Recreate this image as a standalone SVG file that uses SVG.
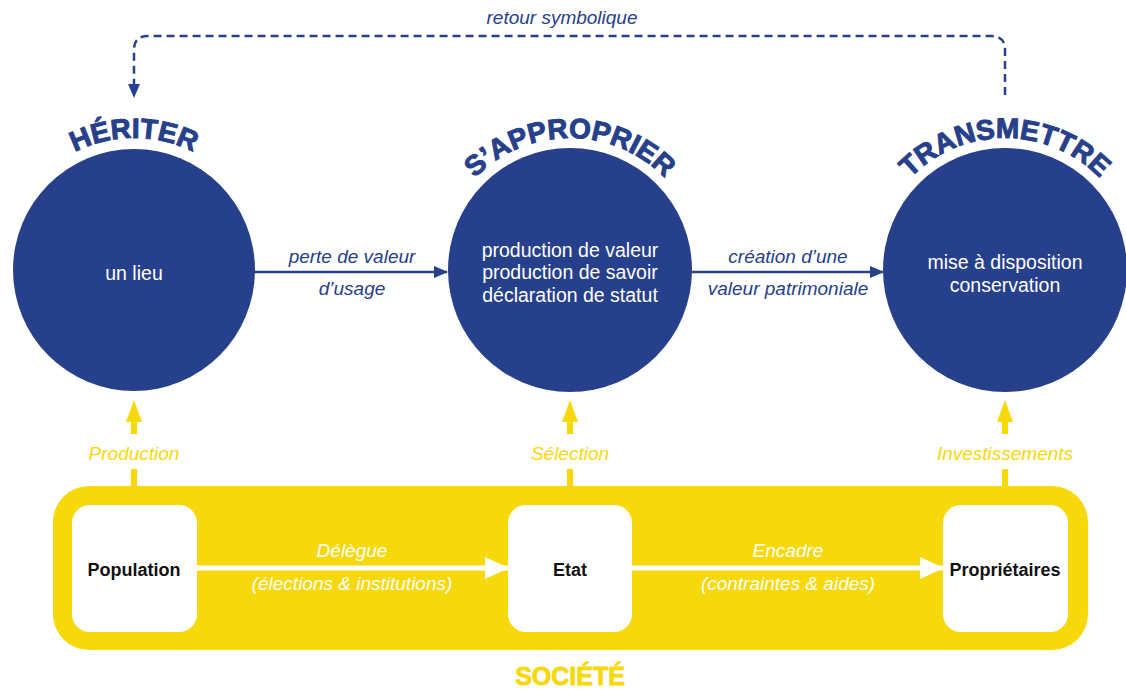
<svg xmlns="http://www.w3.org/2000/svg" width="1126" height="689" viewBox="0 0 1126 689">
<defs>
<style>
.circ{fill:#27408B}
.title{font-family:"Liberation Sans",Arial,sans-serif;font-weight:bold;font-size:28px;fill:#27408B;stroke:#27408B;stroke-width:1;letter-spacing:0px}
.ctext{font-family:"Liberation Sans",Arial,sans-serif;font-size:19.5px;fill:#ffffff;text-anchor:middle}
.blab{font-family:"Liberation Sans",Arial,sans-serif;font-style:italic;font-size:19px;fill:#27408B;text-anchor:middle}
.ylab{font-family:"Liberation Sans",Arial,sans-serif;font-style:italic;font-size:19px;fill:#F7D80B;text-anchor:middle}
.wlab{font-family:"Liberation Sans",Arial,sans-serif;font-style:italic;font-size:19px;fill:#ffffff;text-anchor:middle}
.box{fill:#ffffff}
.boxt{font-family:"Liberation Sans",Arial,sans-serif;font-weight:bold;font-size:18px;fill:#111111;text-anchor:middle}
.bline{stroke:#27408B;stroke-width:2.5;fill:none}
.yline{stroke:#F7D80B;stroke-width:6;fill:none}
.wline{stroke:#ffffff;stroke-width:5;fill:none}
</style>
<marker id="ab" markerWidth="14" markerHeight="12" refX="13" refY="6" orient="auto" markerUnits="userSpaceOnUse"><path d="M0,0 L14,6 L0,12 Z" fill="#27408B"/></marker>
<marker id="aw" markerWidth="24" markerHeight="22" refX="23" refY="11" orient="auto" markerUnits="userSpaceOnUse"><path d="M0,0 L24,11 L0,22 Z" fill="#ffffff"/></marker>
<path id="arc1" d="M2,270 A132,132 0 0 1 266,270"/>
<path id="arc2" d="M438,270 A132,132 0 0 1 702,270"/>
<path id="arc3" d="M873,270 A132,132 0 0 1 1137,270"/>
</defs>
<rect width="1126" height="689" fill="#ffffff"/>

<g id="societe">
<rect x="53" y="486" width="1035" height="164" rx="36" fill="#F7D80B"/>
<text x="570" y="685" text-anchor="middle" style="font-family:'Liberation Sans',Arial,sans-serif;font-weight:bold;font-size:25px;fill:#F7D80B;stroke:#F7D80B;stroke-width:0.8">SOCIÉTÉ</text>
</g>

<g id="connectors">
<path class="bline" d="M1005,95 L1005,50 Q1005,36 991,36 L148,36 Q134,36 134,50 L134,86" stroke-dasharray="8,5"/>
<path d="M128,84 L140,84 L134,98 Z" fill="#27408B"/>
<text class="blab" x="562" y="24">retour symbolique</text>

<line class="bline" x1="252" y1="272" x2="447" y2="272" marker-end="url(#ab)"/>
<text class="blab" x="352" y="263">perte de valeur</text>
<text class="blab" x="352" y="295">d’usage</text>

<line class="bline" x1="692" y1="272" x2="883" y2="272" marker-end="url(#ab)"/>
<text class="blab" x="788" y="263">création d’une</text>
<text class="blab" x="788" y="295">valeur patrimoniale</text>

<line class="yline" x1="134" y1="486" x2="134" y2="469"/>
<line class="yline" x1="134" y1="434" x2="134" y2="420"/>
<path d="M126,422 L142,422 L134,400 Z" fill="#F7D80B"/>
<text class="ylab" x="134" y="460">Production</text>

<line class="yline" x1="570" y1="486" x2="570" y2="469"/>
<line class="yline" x1="570" y1="434" x2="570" y2="420"/>
<path d="M562,422 L578,422 L570,400 Z" fill="#F7D80B"/>
<text class="ylab" x="570" y="460">Sélection</text>

<line class="yline" x1="1005" y1="486" x2="1005" y2="469"/>
<line class="yline" x1="1005" y1="434" x2="1005" y2="420"/>
<path d="M997,422 L1013,422 L1005,400 Z" fill="#F7D80B"/>
<text class="ylab" x="1005" y="460">Investissements</text>

<line class="wline" x1="197" y1="568" x2="508" y2="568" marker-end="url(#aw)"/>
<text class="wlab" x="352" y="557">Délègue</text>
<text class="wlab" x="352" y="590">(élections &amp; institutions)</text>

<line class="wline" x1="632" y1="568" x2="943" y2="568" marker-end="url(#aw)"/>
<text class="wlab" x="788" y="557">Encadre</text>
<text class="wlab" x="788" y="590">(contraintes &amp; aides)</text>
</g>

<g id="heriter">
<circle class="circ" cx="134" cy="270" r="121"/>
<text class="title"><textPath href="#arc1" startOffset="50%" text-anchor="middle">HÉRITER</textPath></text>
<text class="ctext" x="134" y="280">un lieu</text>
</g>

<g id="sapproprier">
<circle class="circ" cx="570" cy="270" r="122"/>
<text class="title"><textPath href="#arc2" startOffset="50%" text-anchor="middle">S’APPROPRIER</textPath></text>
<text class="ctext" x="570" y="257">production de valeur</text>
<text class="ctext" x="570" y="279">production de savoir</text>
<text class="ctext" x="570" y="302">déclaration de statut</text>
</g>

<g id="transmettre">
<circle class="circ" cx="1005" cy="270" r="122"/>
<text class="title"><textPath href="#arc3" startOffset="50%" text-anchor="middle">TRANSMETTRE</textPath></text>
<text class="ctext" x="1005" y="269">mise à disposition</text>
<text class="ctext" x="1005" y="292">conservation</text>
</g>

<g id="population">
<rect class="box" x="72" y="505" width="125" height="127" rx="18"/>
<text class="boxt" x="134" y="576">Population</text>
</g>
<g id="etat">
<rect class="box" x="508" y="505" width="124" height="127" rx="18"/>
<text class="boxt" x="570" y="576">Etat</text>
</g>
<g id="proprietaires">
<rect class="box" x="943" y="505" width="125" height="127" rx="18"/>
<text class="boxt" x="1005" y="576">Propriétaires</text>
</g>
</svg>
